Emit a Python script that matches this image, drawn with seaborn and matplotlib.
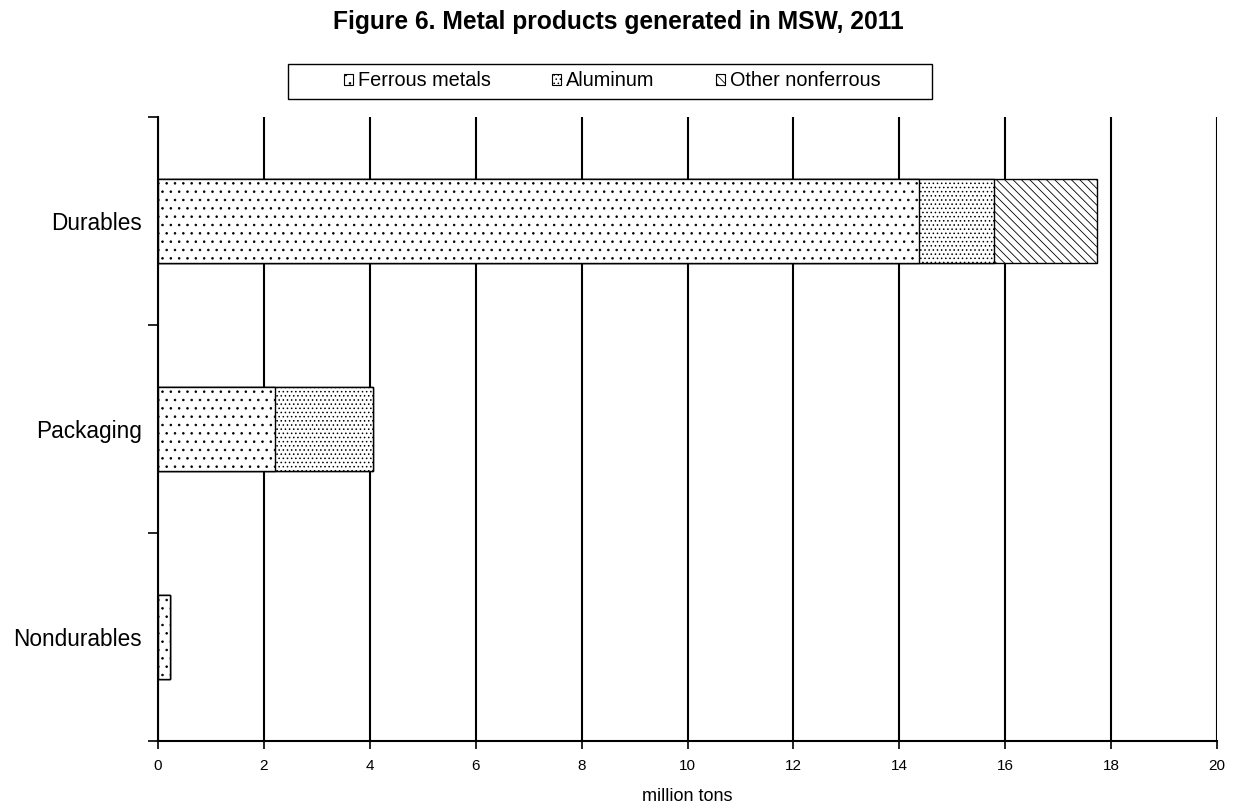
import numpy as np
import pandas as pd
import matplotlib
matplotlib.use("Agg")
import matplotlib.pyplot as plt
import seaborn as sns
from matplotlib.patches import Patch, Rectangle
from matplotlib.ticker import MultipleLocator

# Data (million tons, 2011)
categories = ["Durables", "Packaging", "Nondurables"]
ferrous = [14.37, 2.21, 0.23]
aluminum = [1.41, 1.85, 0.0]
other_nonferrous = [1.95, 0.0, 0.0]
series_names = ["Ferrous metals", "Aluminum", "Other nonferrous"]
hatches = ["..", "....", "\\\\\\\\"]

sns.set_style("white")
plt.rcParams["font.family"] = ["Liberation Sans", "DejaVu Sans"]
plt.rcParams["hatch.linewidth"] = 0.6
for k in ["text.color", "axes.labelcolor", "xtick.color", "ytick.color"]:
    plt.rcParams[k] = "black"

df = pd.DataFrame({
    "category": categories,
    "ferrous": ferrous,
    "aluminum": aluminum,
    "other": other_nonferrous,
})
# cumulative ends for stacking
df["end_ferrous"] = df["ferrous"]
df["end_aluminum"] = df["ferrous"] + df["aluminum"]
df["end_other"] = df["end_aluminum"] + df["other"]

W, H = 1237, 809
fig = plt.figure(figsize=(W / 100, H / 100), dpi=100)
ax = fig.add_axes([158 / W, 1 - 741 / H, (1217 - 158) / W, (741 - 117) / H])

# draw from the longest stack down so each segment covers the previous
for col, h in zip(["end_other", "end_aluminum", "end_ferrous"], hatches[::-1]):
    sns.barplot(data=df, x=col, y="category", order=categories, orient="h",
                width=0.4, color="white", edgecolor="black", linewidth=1,
                hatch=h, errorbar=None, saturation=1, ax=ax)

ax.set_xlim(0, 20)
ax.set_ylim(2.5, -0.5)
ax.xaxis.set_major_locator(MultipleLocator(2))
ax.grid(axis="x", color="black", linewidth=1.5)
ax.grid(axis="y", visible=False)
ax.set_axisbelow(True)

for s in ["top", "right"]:
    ax.spines[s].set_visible(False)
for s in ["left", "bottom"]:
    ax.spines[s].set_color("black")
    ax.spines[s].set_linewidth(1.5)

ax.set_yticks([0, 1, 2])
ax.set_yticklabels(categories, fontsize=16.3)
ax.set_yticks([-0.5, 0.5, 1.5, 2.5], minor=True)
ax.tick_params(axis="y", which="major", length=0, pad=11.5)
ax.tick_params(axis="y", which="minor", length=7, width=1.2, color="black",
               direction="out", left=True)
ax.tick_params(axis="x", which="major", length=6, width=1.2, color="black",
               direction="out", bottom=True, labelsize=11, pad=7)

ax.set_xlabel("million tons", fontsize=13, labelpad=11)
ax.set_ylabel("")

fig.text(0.5, 1 - 22 / H, "Figure 6. Metal products generated in MSW, 2011",
         fontsize=17.7, fontweight="bold", ha="center", va="center")

# legend box drawn separately so its padding matches the original
fig.patches.append(Rectangle((288 / W, 1 - 99 / H), (932 - 288) / W, 35 / H,
                             transform=fig.transFigure, facecolor="white",
                             edgecolor="black", linewidth=1.0, zorder=1))
handles = [Patch(facecolor="white", edgecolor="black", hatch=h, linewidth=0.8)
           for h in hatches]
leg = fig.legend(handles, series_names, loc="center", ncol=3,
                 bbox_to_anchor=(612 / W, 1 - 81 / H), frameon=False,
                 fontsize=14.3, handlelength=0.45, handleheight=0.45,
                 handletextpad=0.25, columnspacing=3.1, borderpad=0,
                 borderaxespad=0)
leg.set_zorder(2)

fig.savefig("out.png", dpi=100)
